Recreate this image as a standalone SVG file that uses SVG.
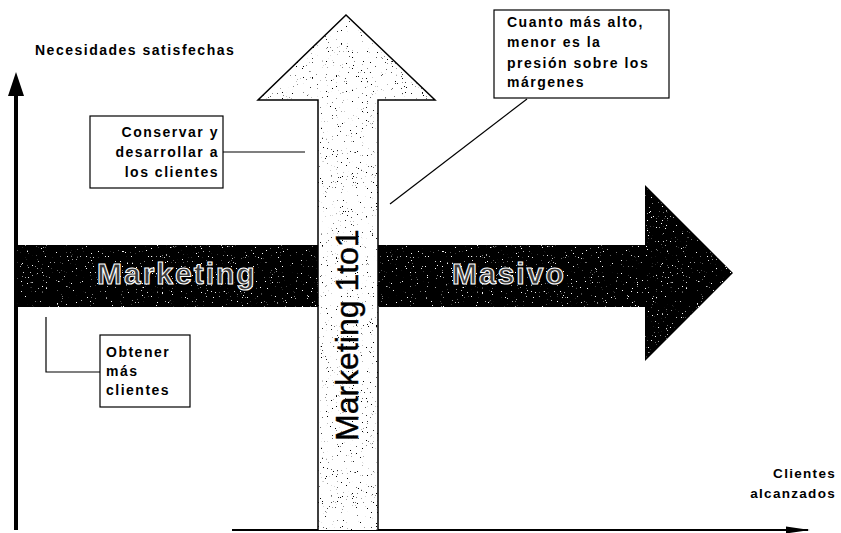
<svg xmlns="http://www.w3.org/2000/svg" width="841" height="533" viewBox="0 0 841 533">
  <style>
    .label { font-family: "Liberation Sans", Arial, sans-serif; font-weight: bold; font-size: 14px; letter-spacing: 1.5px; fill: #000; }
    .axis-label { font-family: "Liberation Sans", Arial, sans-serif; font-weight: bold; font-size: 13.5px; letter-spacing: 1.3px; fill: #000; }
    .band-text { font-family: "Liberation Sans", Arial, sans-serif; font-weight: bold; font-size: 30px; letter-spacing: 2px; fill: #3a3a3a; stroke: #ffffff; stroke-width: 1.1px; }
    .shaft-text { font-family: "Liberation Sans", Arial, sans-serif; font-size: 32px; fill: #000; stroke: #000; stroke-width: 0.4px; }
    .box { fill: #fff; stroke: #000; stroke-width: 1.2; }
    .leader { fill: none; stroke: #000; stroke-width: 1.2; }
    .axis { fill: none; stroke: #000; }
  </style>
  <defs>
    <!-- fine grain speckle: sparse dark dots clipped to the shape -->
    <filter id="grain-dark" x="0" y="0" width="100%" height="100%" color-interpolation-filters="sRGB">
      <feTurbulence type="fractalNoise" baseFrequency="0.8" numOctaves="2" seed="7" result="noise"/>
      <feColorMatrix in="noise" type="matrix" values="0 0 0 0 0  0 0 0 0 0  0 0 0 0 0  1 0 0 0 0" result="a"/>
      <feComponentTransfer in="a" result="dots">
        <feFuncA type="linear" slope="14" intercept="-9.85"/>
      </feComponentTransfer>
      <feComposite in="dots" in2="SourceAlpha" operator="in"/>
    </filter>
    <!-- fine grain speckle: sparse light dots clipped to the shape -->
    <filter id="grain-light" x="0" y="0" width="100%" height="100%" color-interpolation-filters="sRGB">
      <feTurbulence type="fractalNoise" baseFrequency="0.8" numOctaves="2" seed="3" result="noise"/>
      <feColorMatrix in="noise" type="matrix" values="0 0 0 0 1  0 0 0 0 1  0 0 0 0 1  1 0 0 0 0" result="a"/>
      <feComponentTransfer in="a" result="dots">
        <feFuncA type="linear" slope="14" intercept="-9.95"/>
      </feComponentTransfer>
      <feComposite in="dots" in2="SourceAlpha" operator="in"/>
    </filter>
    <marker id="axis-head" viewBox="0 0 24 10" refX="22" refY="5" markerWidth="24" markerHeight="10" markerUnits="userSpaceOnUse" orient="auto">
      <path d="M0,1.5 L24,5 L0,8.5 Z" fill="#000"/>
    </marker>
  </defs>

  <g id="connectors">
    <!-- axes -->
    <g id="axes">
      <line class="axis" x1="16" y1="92" x2="16" y2="530" stroke-width="4"/>
      <path d="M8,96 L16,72 L24,96 Z" fill="#000"/>
      <line class="axis" x1="232" y1="530" x2="808" y2="530" stroke-width="2" marker-end="url(#axis-head)"/>
    </g>
    <!-- callout leaders -->
    <polyline class="leader" points="223,152 305,152"/>
    <polyline class="leader" points="527,99 390,204"/>
    <polyline class="leader" points="100,372 46,372 46,317"/>
  </g>

  <!-- mass marketing band -->
  <g id="masivo-arrow">
    <path d="M17,245 L645,245 L645,185 L733,273 L645,361 L645,307 L17,307 Z" fill="#000"/>
    <path d="M17,245 L645,245 L645,185 L733,273 L645,361 L645,307 L17,307 Z" fill="#000" filter="url(#grain-light)"/>
    <text class="band-text" x="97" y="284">Marketing</text>
    <text class="band-text" x="452" y="284">Masivo</text>
  </g>

  <!-- one-to-one marketing arrow -->
  <g id="one-to-one-arrow">
    <path d="M318,530 L318,100 L258,100 L346,15 L435,100 L378,100 L378,530" fill="#fff" stroke="#000" stroke-width="1.5"/>
    <path d="M318,530 L318,100 L258,100 L346,15 L435,100 L378,100 L378,530 Z" fill="#000" filter="url(#grain-dark)"/>
    <text class="shaft-text" transform="translate(358,441) rotate(-90)">Marketing 1to1</text>
  </g>

  <g id="y-axis-label">
    <text class="label" x="35" y="55">Necesidades satisfechas</text>
  </g>

  <g id="x-axis-label">
    <text class="axis-label" text-anchor="end" x="836" y="478">Clientes</text>
    <text class="axis-label" text-anchor="end" x="836" y="498">alcanzados</text>
  </g>

  <g id="callout-conservar">
    <rect class="box" x="90" y="116" width="133" height="72"/>
    <text class="label" text-anchor="end" x="219" y="137">Conservar y</text>
    <text class="label" text-anchor="end" x="219" y="157">desarrollar a</text>
    <text class="label" text-anchor="end" x="219" y="177">los clientes</text>
  </g>

  <g id="callout-margenes">
    <rect class="box" x="494" y="10" width="175" height="88"/>
    <text class="label" x="507" y="27">Cuanto más alto,</text>
    <text class="label" x="507" y="47">menor es la</text>
    <text class="label" x="507" y="68">presión sobre los</text>
    <text class="label" x="507" y="87">márgenes</text>
  </g>

  <g id="callout-obtener">
    <rect class="box" x="100" y="335" width="90" height="72"/>
    <text class="label" x="106" y="357">Obtener</text>
    <text class="label" x="106" y="376">más</text>
    <text class="label" x="106" y="395">clientes</text>
  </g>
</svg>
